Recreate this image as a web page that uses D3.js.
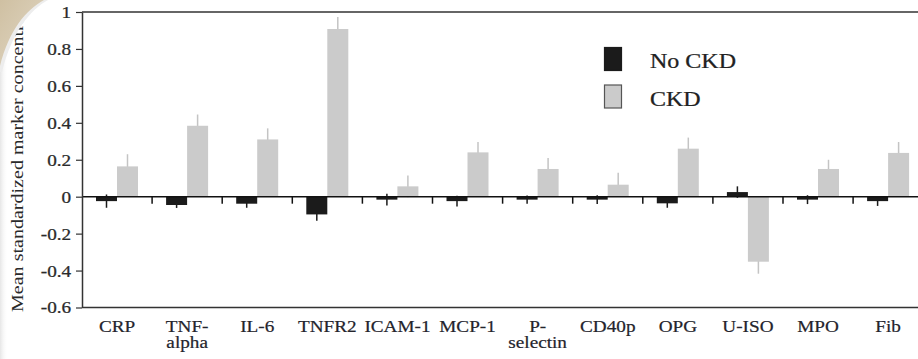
<!DOCTYPE html>
<html>
<head>
<meta charset="utf-8">
<script src="https://cdn.jsdelivr.net/npm/d3@7"></script>
<style>
  body { margin: 0; background: #fff; }
  svg { display: block; }
</style>
</head>
<body>
<svg id="chart" width="918" height="359"></svg>
<script>
// Data
const categories = ["CRP", "TNF-alpha", "IL-6", "TNFR2", "ICAM-1", "MCP-1", "P-selectin", "CD40p", "OPG", "U-ISO", "MPO", "Fib"];
const categoryLines = [["CRP"], ["TNF-", "alpha"], ["IL-6"], ["TNFR2"], ["ICAM-1"], ["MCP-1"], ["P-", "selectin"], ["CD40p"], ["OPG"], ["U-ISO"], ["MPO"], ["Fib"]];
const noCkd    = [-0.024, -0.045, -0.038, -0.096, -0.016, -0.024, -0.016, -0.016, -0.036, 0.025, -0.016, -0.024];
const noCkdErr = [0.036, 0.016, 0.022, 0.034, 0.032, 0.029, 0.022, 0.024, 0.024, 0.031, 0.024, 0.026];
const ckd      = [0.164, 0.384, 0.310, 0.908, 0.056, 0.240, 0.150, 0.065, 0.260, -0.352, 0.150, 0.237];
const ckdErr   = [0.066, 0.061, 0.060, 0.065, 0.059, 0.056, 0.060, 0.065, 0.060, 0.065, 0.050, 0.059];
const seriesNames = ["No CKD", "CKD"];
const yTicks = [1, 0.8, 0.6, 0.4, 0.2, 0, -0.2, -0.4, -0.6];
const yTickLabels = ["1", "0.8", "0.6", "0.4", "0.2", "0", "-0.2", "-0.4", "-0.6"];

const FONT = "'Liberation Serif', 'DejaVu Serif', serif";

const svg = d3.select("#chart"),
    width = +svg.attr("width"),
    height = +svg.attr("height"),
    margin = { top: 12, left: 82, bottom: 52 };

const sx = 1.2; // the original figure is stretched sideways

const colors = { "No CKD": "#1b1b1b", "CKD": "#cbcbcb" };
const errColors = { "No CKD": "#1b1b1b", "CKD": "#c4c4c4" };

const x = d3.scaleBand()
    .domain(categories)
    .range([margin.left, margin.left + 70.1 * categories.length])
    .padding(0);

const x1 = d3.scaleBand()
    .domain(seriesNames)
    .range([14, 56]);

const y = d3.scaleLinear()
    .domain([-0.6, 1])
    .range([height - margin.bottom + 0.5, margin.top]);

const rows = categories.map((c, i) => ({
    cat: c,
    bars: [
        { key: "No CKD", value: noCkd[i], err: noCkdErr[i] },
        { key: "CKD", value: ckd[i], err: ckdErr[i] }
    ]
}));

// error bars (behind the bars)
const groups = svg.append("g").selectAll("g")
    .data(rows)
    .join("g")
    .attr("transform", d => `translate(${x(d.cat)},0)`);

groups.selectAll("line.err")
    .data(d => d.bars)
    .join("line")
    .attr("class", "err")
    .attr("x1", d => x1(d.key) + x1.bandwidth() / 2)
    .attr("x2", d => x1(d.key) + x1.bandwidth() / 2)
    .attr("y1", d => y(d.value - Math.sign(d.value) * d.err))
    .attr("y2", d => y(d.value + Math.sign(d.value) * d.err))
    .attr("stroke", d => errColors[d.key])
    .attr("stroke-width", 1.5);

groups.selectAll("rect")
    .data(d => d.bars)
    .join("rect")
    .attr("x", d => x1(d.key))
    .attr("width", x1.bandwidth())
    .attr("y", d => y(Math.max(0, d.value)))
    .attr("height", d => Math.abs(y(d.value) - y(0)))
    .attr("fill", d => colors[d.key]);

// frame lines
svg.append("line")
    .attr("x1", margin.left).attr("x2", width)
    .attr("y1", y(1)).attr("y2", y(1))
    .attr("stroke", "#333").attr("stroke-width", 1.5);
svg.append("line")
    .attr("x1", margin.left).attr("x2", width)
    .attr("y1", y(-0.6)).attr("y2", y(-0.6))
    .attr("stroke", "#333").attr("stroke-width", 1.5);

// zero line and category ticks
svg.append("line")
    .attr("x1", margin.left).attr("x2", width)
    .attr("y1", y(0)).attr("y2", y(0))
    .attr("stroke", "#111").attr("stroke-width", 1.5);

svg.append("g").selectAll("line")
    .data(categories.slice(1))
    .join("line")
    .attr("x1", d => x(d)).attr("x2", d => x(d))
    .attr("y1", y(0)).attr("y2", y(0) + 7)
    .attr("stroke", "#111").attr("stroke-width", 1.5);

// y axis
const yAxis = svg.append("g")
    .attr("transform", `translate(${margin.left},0)`)
    .call(d3.axisLeft(y)
        .tickValues(yTicks)
        .tickFormat((d, i) => yTickLabels[i])
        .tickSize(6)
        .tickSizeOuter(0)
        .tickPadding(3));
yAxis.attr("font-family", null).attr("font-size", null);
yAxis.select(".domain").attr("stroke", "#333").attr("stroke-width", 1.5);
yAxis.selectAll(".tick line").attr("stroke", "#333").attr("stroke-width", 1.2);
yAxis.selectAll(".tick text")
    .attr("transform", `scale(${sx},1)`)
    .attr("dy", "0.34em")
    .style("font-family", FONT)
    .style("font-size", "16px")
    .style("fill", "#2a2a2a")
    .style("stroke", "#2a2a2a")
    .style("stroke-width", 0.25);

// category labels
const labels = svg.append("g").selectAll("g")
    .data(categories)
    .join("g")
    .attr("transform", d => `translate(${x(d) + x.bandwidth() / 2},332)`);

labels.selectAll("text")
    .data((d, i) => categoryLines[i])
    .join("text")
    .attr("y", (d, j) => j * 16.5)
    .attr("transform", `scale(${sx},1)`)
    .attr("text-anchor", "middle")
    .style("font-family", FONT)
    .style("font-size", "16px")
    .style("fill", "#24242c")
    .style("stroke", "#24242c")
    .style("stroke-width", 0.2)
    .text(d => d);

// y axis title
svg.append("text")
    .attr("transform", "translate(23,312) rotate(-90) scale(1.18,1)")
    .style("font-family", FONT)
    .style("font-size", "17px")
    .style("fill", "#2a2a2a")
    .text("Mean standardized marker concentration");

// legend
const legend = svg.append("g").attr("transform", "translate(604,47)");
seriesNames.forEach((key, i) => {
    const g = legend.append("g").attr("transform", `translate(0,${i * 37.5})`);
    g.append("rect")
        .attr("x", 0.5).attr("y", 0.5)
        .attr("width", 17).attr("height", 23)
        .attr("fill", colors[key])
        .attr("stroke", key === "CKD" ? "#555" : "#1b1b1b")
        .attr("stroke-width", 1.2);
    g.append("text")
        .attr("transform", `translate(46,21) scale(${sx},1)`)
        .style("font-family", FONT)
        .style("font-size", "20px")
        .style("fill", "#222")
        .style("stroke", "#222")
        .style("stroke-width", 0.25)
        .text(key);
});

// page-curl corner from the scan
const defs = svg.append("defs");
const grad = defs.append("linearGradient")
    .attr("id", "curl").attr("x1", "0").attr("y1", "0").attr("x2", "1").attr("y2", "1");
grad.append("stop").attr("offset", "0%").attr("stop-color", "#cfc0a2");
grad.append("stop").attr("offset", "100%").attr("stop-color", "#e2d8c6");
const edge = defs.append("linearGradient")
    .attr("id", "edge").attr("x1", "0").attr("y1", "0").attr("x2", "1").attr("y2", "0");
edge.append("stop").attr("offset", "0%").attr("stop-color", "#e6e6e6");
edge.append("stop").attr("offset", "100%").attr("stop-color", "#ffffff").attr("stop-opacity", 0);

svg.insert("rect", ":first-child")
    .attr("x", 0).attr("y", 40).attr("width", 8).attr("height", height - 40)
    .attr("fill", "url(#edge)");

svg.append("path")
    .attr("d", "M0,0 H48 C30,10 12,32 2,72 L0,72 Z")
    .attr("fill", "#ededed");
svg.append("path")
    .attr("d", "M0,0 H44 C26,10 9,30 0,66 Z")
    .attr("fill", "url(#curl)");
</script>
</body>
</html>
